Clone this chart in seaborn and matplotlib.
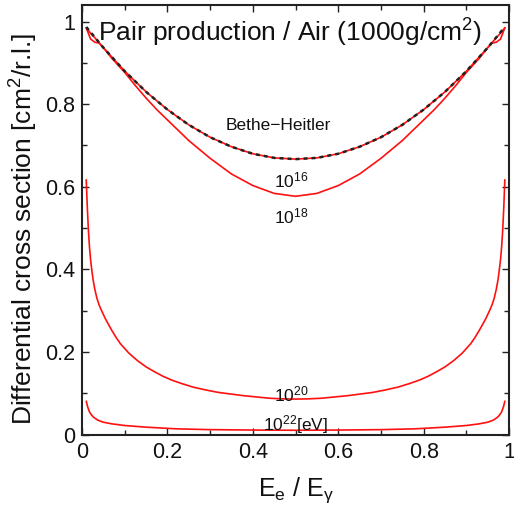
import matplotlib
matplotlib.use("Agg")
import matplotlib.pyplot as plt
import seaborn as sns
import pandas as pd
from matplotlib.ticker import MultipleLocator

# ---- data ----
x_bh = [0.01, 0.05, 0.10, 0.15, 0.20, 0.25, 0.30, 0.35, 0.40, 0.45, 0.50,
        0.55, 0.60, 0.65, 0.70, 0.75, 0.80, 0.85, 0.90, 0.95, 0.99]
y_bh = [0.987, 0.937, 0.880, 0.830, 0.787, 0.750, 0.720, 0.697, 0.680, 0.670, 0.667,
        0.670, 0.680, 0.697, 0.720, 0.750, 0.787, 0.830, 0.880, 0.937, 0.987]

x_e16 = [0.01, 0.02, 0.03, 0.05, 0.10, 0.15, 0.20, 0.25, 0.30, 0.35, 0.40, 0.45, 0.50,
         0.55, 0.60, 0.65, 0.70, 0.75, 0.80, 0.85, 0.90, 0.95, 0.97, 0.98, 0.99]
y_e16 = [0.985, 0.972, 0.961, 0.937, 0.880, 0.830, 0.787, 0.750, 0.720, 0.697, 0.680, 0.670, 0.667,
         0.670, 0.680, 0.697, 0.720, 0.750, 0.787, 0.830, 0.880, 0.937, 0.961, 0.972, 0.985]

x_e18 = [0.01, 0.02, 0.03, 0.04, 0.05, 0.07, 0.10, 0.125, 0.15, 0.175, 0.20, 0.25, 0.30, 0.35, 0.40, 0.45, 0.50,
         0.55, 0.60, 0.65, 0.70, 0.75, 0.80, 0.825, 0.85, 0.875, 0.90, 0.93, 0.95, 0.96, 0.97, 0.98, 0.99]
y_e18 = [0.985, 0.958, 0.950, 0.948, 0.937, 0.911, 0.877, 0.845, 0.815, 0.787, 0.762, 0.712, 0.669, 0.631, 0.603, 0.584, 0.577,
         0.584, 0.603, 0.631, 0.669, 0.712, 0.762, 0.787, 0.815, 0.845, 0.877, 0.911, 0.937, 0.948, 0.950, 0.958, 0.985]

x_e20 = [0.01, 0.0125, 0.015, 0.0175, 0.02, 0.023, 0.026, 0.03, 0.035, 0.04, 0.045, 0.055, 0.07, 0.08, 0.09,
         0.11, 0.13, 0.15, 0.17, 0.19, 0.21, 0.235, 0.26, 0.29, 0.32, 0.35, 0.38, 0.41, 0.44, 0.47, 0.50,
         0.53, 0.56, 0.59, 0.62, 0.65, 0.68, 0.71, 0.74, 0.765, 0.79, 0.81, 0.83, 0.85, 0.87, 0.89,
         0.91, 0.92, 0.93, 0.945, 0.955, 0.96, 0.965, 0.97, 0.974, 0.977, 0.98, 0.9825, 0.985, 0.9875, 0.99]
y_e20 = [0.617, 0.550, 0.495, 0.455, 0.425, 0.398, 0.375, 0.352, 0.330, 0.314, 0.302, 0.280, 0.252, 0.235, 0.220,
         0.197, 0.179, 0.164, 0.152, 0.141, 0.132, 0.123, 0.115, 0.108, 0.102, 0.098, 0.094, 0.091, 0.088, 0.0865, 0.086,
         0.0865, 0.088, 0.091, 0.094, 0.098, 0.102, 0.108, 0.115, 0.123, 0.132, 0.141, 0.152, 0.164, 0.179, 0.197,
         0.220, 0.235, 0.252, 0.280, 0.302, 0.314, 0.330, 0.352, 0.375, 0.398, 0.425, 0.455, 0.495, 0.550, 0.617]

x_e22 = [0.01, 0.0125, 0.015, 0.018, 0.022, 0.026, 0.03, 0.037, 0.05, 0.07, 0.10, 0.15, 0.22, 0.30, 0.40, 0.50,
         0.60, 0.70, 0.78, 0.85, 0.90, 0.93, 0.95, 0.963, 0.97, 0.974, 0.978, 0.982, 0.985, 0.9875, 0.99]
y_e22 = [0.081, 0.070, 0.062, 0.054, 0.048, 0.043, 0.040, 0.035, 0.030, 0.026, 0.022, 0.018, 0.014, 0.012, 0.011, 0.0105,
         0.011, 0.012, 0.014, 0.018, 0.022, 0.026, 0.030, 0.035, 0.040, 0.043, 0.048, 0.054, 0.062, 0.070, 0.081]

labels = ["Bethe\u2212Heitler", "$10^{16}$", "$10^{18}$", "$10^{20}$", "$10^{22}$[eV]"]
label_pos = [(0.46, 0.748), (0.49, 0.615), (0.49, 0.527), (0.49, 0.096), (0.50, 0.024)]
title_text = "Pair production / Air (1000g/cm$^2$)"

sns.set_style("ticks")
plt.rcParams["font.family"] = ["Liberation Sans", "DejaVu Sans"]
plt.rcParams["mathtext.fontset"] = "custom"
plt.rcParams["mathtext.rm"] = "Liberation Sans"
plt.rcParams["mathtext.it"] = "Liberation Sans:italic"

fig = plt.figure(figsize=(5.14, 5.08), dpi=100)
ax = fig.add_axes([0.1595, 0.1445, 0.831, 0.8455])

red = "#ff1010"
for xs, ys in [(x_e16, y_e16), (x_e18, y_e18), (x_e20, y_e20), (x_e22, y_e22)]:
    df = pd.DataFrame({"x": xs, "y": ys})
    sns.lineplot(data=df, x="x", y="y", ax=ax, color=red, lw=1.2, sort=False, estimator=None)

df_bh = pd.DataFrame({"x": x_bh, "y": y_bh})
sns.lineplot(data=df_bh, x="x", y="y", ax=ax, color="#222222", lw=1.8, sort=False, estimator=None,
             dashes=False, linestyle=(0, (1.6, 1.6)))

for txt, (lx, ly) in zip(labels, label_pos):
    ax.text(lx, ly, txt, ha="center", va="center", fontsize=12.5, color="#111111")

ax.text(0.486, 0.972, title_text, ha="center", va="center", fontsize=19, color="#111111")

ax.set_xlim(0, 1)
ax.set_ylim(0, 1.04)
ax.xaxis.set_minor_locator(MultipleLocator(0.1))
ax.yaxis.set_minor_locator(MultipleLocator(0.1))
ax.set_xticks([0, 0.2, 0.4, 0.6, 0.8, 1.0])
ax.set_xticklabels(["0", "0.2", "0.4", "0.6", "0.8", "1"])
ax.set_yticks([0, 0.2, 0.4, 0.6, 0.8, 1.0])
ax.set_yticklabels(["0", "0.2", "0.4", "0.6", "0.8", "1"])
ax.tick_params(which="both", direction="in", top=True, right=True, width=1.0, color="#222222",
               labelsize=15.5, labelcolor="#111111")
ax.tick_params(which="major", length=5, pad=5)
ax.tick_params(which="minor", length=3.5)
for s in ax.spines.values():
    s.set_linewidth(1.5)
    s.set_color("#222222")

ax.set_xlabel("E$_\\mathrm{e}$ / E$_\\mathrm{\u03b3}$", fontsize=18, color="#111111", labelpad=9)
ax.set_ylabel("Differential cross section [cm$^2$/r.l.]", fontsize=19, color="#111111")
ax.yaxis.set_label_coords(-0.098, 0.48)

fig.savefig("out.png", dpi=100)
